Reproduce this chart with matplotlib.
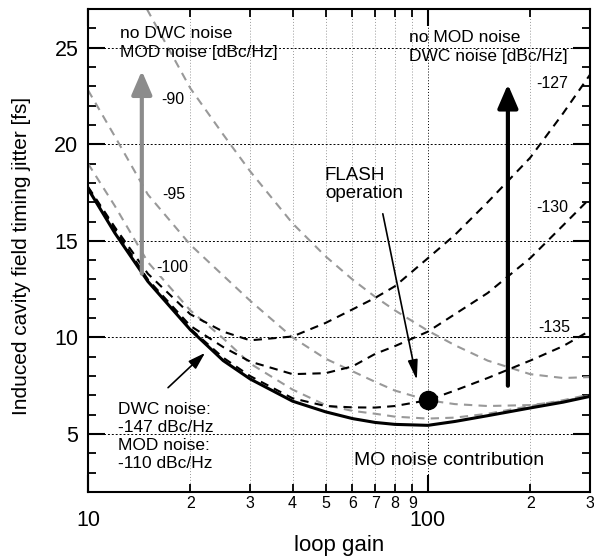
import matplotlib
matplotlib.use('Agg')
import matplotlib.pyplot as plt
from matplotlib.ticker import FixedLocator, FixedFormatter, MultipleLocator

plt.rcParams['font.family'] = ['Liberation Sans', 'DejaVu Sans']

# loop gain sample points
gain = [10, 12, 15, 20, 25, 30, 40, 50, 60, 70, 80, 100, 120, 150, 200, 250, 300]

# MO noise contribution with DWC -147 / MOD -110 dBc/Hz (solid)
total = [17.7, 15.4, 12.9, 10.4, 8.8, 7.85, 6.7, 6.15, 5.8, 5.6, 5.5, 5.45, 5.65, 5.95, 6.35, 6.65, 6.95]

# no MOD noise, DWC noise [dBc/Hz] (black dashed)
dwc_127 = [17.8, 15.7, 13.3, 11.2, 10.3, 9.85, 10.05, 10.75, 11.45, 12.05, 12.65, 14.1, 15.3, 17.0, 19.3, 21.6, 23.6]
dwc_130 = [17.75, 15.6, 13.0, 10.6, 9.5, 8.75, 8.1, 8.15, 8.5, 9.15, 9.55, 10.3, 11.2, 12.3, 14.1, 15.8, 17.2]
dwc_135 = [17.7, 15.45, 12.95, 10.45, 8.95, 8.0, 6.85, 6.45, 6.38, 6.37, 6.45, 6.75, 7.25, 7.9, 8.8, 9.55, 10.35]

# no DWC noise, MOD noise [dBc/Hz] (grey dashed)
gain_90 = [14.9, 20, 25, 30, 40, 50, 60, 70, 80, 100, 120, 150, 200, 250, 300]
mod_90 = [27.0, 22.9, 20.5, 18.6, 15.9, 14.2, 13.0, 12.1, 11.4, 10.35, 9.6, 8.8, 8.1, 7.9, 7.95]
mod_95 = [22.8, 20.4, 17.4, 14.8, 13.2, 11.9, 10.0, 8.9, 8.25, 7.7, 7.25, 6.75, 6.55, 6.45, 6.5, 6.7, 7.0]
mod_100 = [19.0, 16.8, 13.9, 11.4, 9.95, 8.65, 7.3, 6.5, 6.2, 6.05, 5.9, 5.8, 5.85, 6.05, 6.45, 6.75, 7.05]

flash_gain = 100
flash_jitter = 6.75

x_major = [10, 100]
x_major_labels = ['10', '100']
x_minor = [20, 30, 40, 50, 60, 70, 80, 90, 200, 300]
x_minor_labels = ['2', '3', '4', '5', '6', '7', '8', '9', '2', '3']

grey = '#999999'

fig = plt.figure(figsize=(5.94, 5.58), dpi=100)
ax = fig.add_axes([88 / 594, 66 / 558, 502 / 594, 483 / 558])

ax.set_xscale('log')
ax.set_xlim(10, 300)
ax.set_ylim(2, 27)

# grid
ax.xaxis.grid(True, which='minor', color='0.6', lw=0.7, ls=(0, (1, 2)))
ax.xaxis.grid(True, which='major', color='black', lw=0.7, ls=(0, (1, 2)))
ax.yaxis.grid(True, which='major', color='black', lw=0.7, ls=(0, (2, 2)))
ax.set_axisbelow(True)

dash = (0, (4, 3))
ax.plot(gain_90, mod_90, color=grey, lw=1.5, ls=dash, zorder=2)
ax.plot(gain, mod_95, color=grey, lw=1.5, ls=dash, zorder=2)
ax.plot(gain, mod_100, color=grey, lw=1.5, ls=dash, zorder=2)
ax.plot(gain, dwc_127, color='black', lw=1.5, ls=dash, zorder=3)
ax.plot(gain, dwc_130, color='black', lw=1.5, ls=dash, zorder=3)
ax.plot(gain, dwc_135, color='black', lw=1.5, ls=dash, zorder=3)
ax.plot(gain, total, color='black', lw=2.2, zorder=4)
ax.plot([flash_gain], [flash_jitter], 'o', color='black', ms=13, zorder=5)

# big arrows
ax.annotate('', xy=(14.4, 23.8), xytext=(14.4, 13.3),
            arrowprops=dict(arrowstyle='-|>,head_length=0.65,head_width=0.28',
                            lw=3, color='#8c8c8c', mutation_scale=22,
                            shrinkA=0, shrinkB=0), zorder=6)
ax.annotate('', xy=(172, 23.1), xytext=(172, 7.5),
            arrowprops=dict(arrowstyle='-|>,head_length=0.65,head_width=0.28',
                            lw=3, color='black', mutation_scale=22,
                            shrinkA=0, shrinkB=0), zorder=6)
# thin arrows
ax.annotate('', xy=(92.8, 7.8), xytext=(73.7, 16.4),
            arrowprops=dict(arrowstyle='-|>,head_length=0.8,head_width=0.2',
                            lw=1.2, color='black', mutation_scale=15,
                            shrinkA=0, shrinkB=0), zorder=6)
ax.annotate('', xy=(22.1, 9.2), xytext=(17.2, 7.4),
            arrowprops=dict(arrowstyle='-|>,head_length=0.8,head_width=0.25',
                            lw=1.2, color='black', mutation_scale=13,
                            shrinkA=0, shrinkB=0), zorder=6)

# texts
tr = ax.transAxes
ax.text(0.064, 0.965, 'no DWC noise\nMOD noise [dBc/Hz]', transform=tr,
        fontsize=12.5, va='top', ha='left', linespacing=1.3)
ax.text(0.639, 0.956, 'no MOD noise\nDWC noise [dBc/Hz]', transform=tr,
        fontsize=12.5, va='top', ha='left', linespacing=1.3)
for s, xf, yf in [('-90', 0.169, 0.812), ('-95', 0.171, 0.615), ('-100', 0.167, 0.464),
                  ('-127', 0.924, 0.845), ('-130', 0.924, 0.590), ('-135', 0.928, 0.340)]:
    ax.text(xf, yf, s, transform=tr, fontsize=11.5, ha='center', va='center',
            bbox=dict(fc='white', ec='none', pad=0.5))
ax.text(0.472, 0.672, 'FLASH\noperation', transform=tr, fontsize=13.5,
        va='top', ha='left', linespacing=1.08)
ax.text(0.060, 0.187, 'DWC noise:\n-147 dBc/Hz\nMOD noise:\n-110 dBc/Hz', transform=tr,
        fontsize=12.5, va='top', ha='left', linespacing=1.25)
ax.text(0.719, 0.066, 'MO noise contribution', transform=tr, fontsize=14,
        ha='center', va='center')

# ticks
ax.xaxis.set_major_locator(FixedLocator(x_major))
ax.xaxis.set_major_formatter(FixedFormatter(x_major_labels))
ax.xaxis.set_minor_locator(FixedLocator(x_minor))
ax.xaxis.set_minor_formatter(FixedFormatter(x_minor_labels))
ax.yaxis.set_major_locator(MultipleLocator(5))
ax.yaxis.set_minor_locator(MultipleLocator(1))

ax.tick_params(which='both', direction='in', top=True, right=True)
ax.tick_params(which='major', length=12, width=1.5)
ax.tick_params(which='minor', length=6, width=1.3)
ax.tick_params(axis='x', which='major', labelsize=15.5, pad=13)
ax.tick_params(axis='x', which='minor', labelsize=11.5, pad=3)
ax.tick_params(axis='y', which='major', labelsize=15.5, pad=7)

for sp in ax.spines.values():
    sp.set_linewidth(1.5)

ax.set_ylabel('Induced cavity field timing jitter [fs]', fontsize=15)
ax.yaxis.set_label_coords(-0.114, 0.489)
ax.set_xlabel('loop gain', fontsize=16)
ax.xaxis.set_label_coords(0.5, -0.088)

fig.savefig('out.png', dpi=100)
